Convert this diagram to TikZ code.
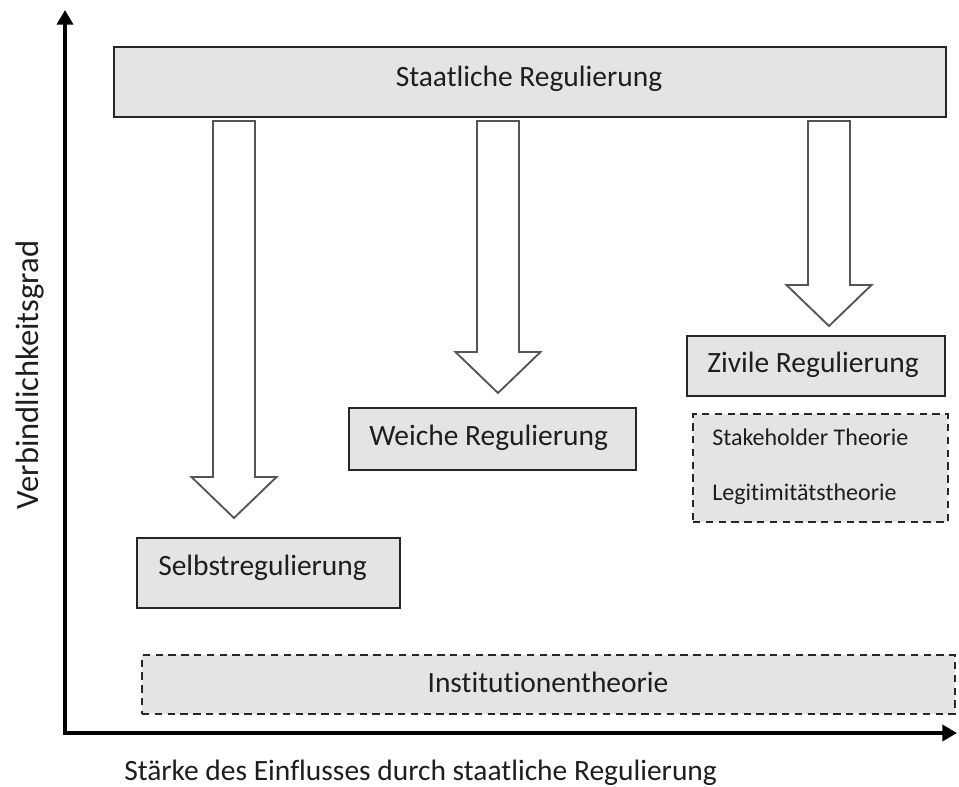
\documentclass[tikz,border=0pt]{standalone}
\usepackage{fontspec}
\setmainfont{Carlito}[Ligatures=NoCommon]
\usetikzlibrary{arrows.meta,calc,fit}
\definecolor{boxfill}{HTML}{E4E4E4}
\definecolor{boxline}{HTML}{262626}
\definecolor{arrowline}{HTML}{555555}
\definecolor{textcol}{HTML}{1E1E1E}
\tikzset{
  regbox/.style={draw=boxline, line width=1.6pt, fill=boxfill, inner sep=0pt},
  theorybox/.style={draw=boxline, line width=1.4pt, fill=boxfill, inner sep=0pt,
    dash pattern=on 5.6pt off 4pt},
  bigtext/.style={font=\fontsize{22.1}{26}\selectfont, text=textcol, inner sep=0pt},
  axistext/.style={font=\fontsize{24.4}{28}\selectfont, text=textcol, inner sep=0pt},
  smalltext/.style={font=\fontsize{18}{22}\selectfont, text=textcol, inner sep=0pt},
  flowarrow/.style={draw=arrowline, line width=1.4pt, fill=white, line join=miter},
  axisline/.style={line width=3pt, line join=miter,
    {Triangle[length=11pt,width=12pt]}-{Triangle[length=11pt,width=12pt]}},
}
% hollow downward block arrow from a top-centre point to its tip
\newcommand{\downblock}[2]{%
  \draw[flowarrow] let \p1=(#1), \p2=(#2) in
    (\x1-15.75pt,\y1) -- (\x1+15.75pt,\y1) -- (\x1+15.75pt,\y2+30.75pt)
    -- (\x1+31.9pt,\y2+30.75pt) -- (\x1,\y2) -- (\x1-31.9pt,\y2+30.75pt)
    -- (\x1-15.75pt,\y2+30.75pt) -- cycle;}
\begin{document}
\begin{tikzpicture}[x=0.75pt, y=-0.75pt]
\useasboundingbox (0,0) rectangle (959,787);

% axes
\coordinate (ytop) at (65,10);
\coordinate (origin) at (65,733);
\coordinate (xend) at (957,733);
\draw[axisline] (ytop) -- (origin) -- (xend);
\node[bigtext, anchor=base west] (xlab) at (124,780)
  {Stärke des Einflusses durch staatliche Regulierung};
\node[axistext, rotate=90, anchor=base] (ylab) at (38,375) {Verbindlichkeitsgrad};

% regulation boxes
\node[regbox, fit={(114,47) (946,117)}] (staat) {};
\node[bigtext, anchor=base] (staattext) at (529,87) {Staatliche Regulierung};

\node[regbox, fit={(137,538) (400,608)}] (selbst) {};
\node[bigtext, anchor=base west] (selbsttext) at (158,575) {Selbstregulierung};

\node[regbox, fit={(349,408) (636,470)}] (weiche) {};
\node[bigtext, anchor=base west] (weichetext) at (369,445) {Weiche Regulierung};

\node[regbox, fit={(687,336) (945,396)}] (zivil) {};
\node[bigtext, anchor=base west] (ziviltext) at (707,373) {Zivile Regulierung};

% theory boxes
\node[theorybox, fit={(693,414) (948,522)}] (stake) {};
\node[smalltext, anchor=base west] (staketext) at (712,445) {Stakeholder Theorie};
\node[smalltext, anchor=base west] (legtext) at (712,500) {Legitimitätstheorie};

\node[theorybox, fit={(142,655) (955,714)}] (inst) {};
\node[bigtext, anchor=base] (insttext) at (548,692) {Institutionentheorie};

% block arrows from state regulation
\coordinate (a1top) at (234,121);
\coordinate (a1tip) at (234,518);
\coordinate (a2top) at (498,121);
\coordinate (a2tip) at (498,393);
\coordinate (a3top) at (829,121);
\coordinate (a3tip) at (829,326);
\downblock{a1top}{a1tip}
\downblock{a2top}{a2tip}
\downblock{a3top}{a3tip}
\end{tikzpicture}
\end{document}
